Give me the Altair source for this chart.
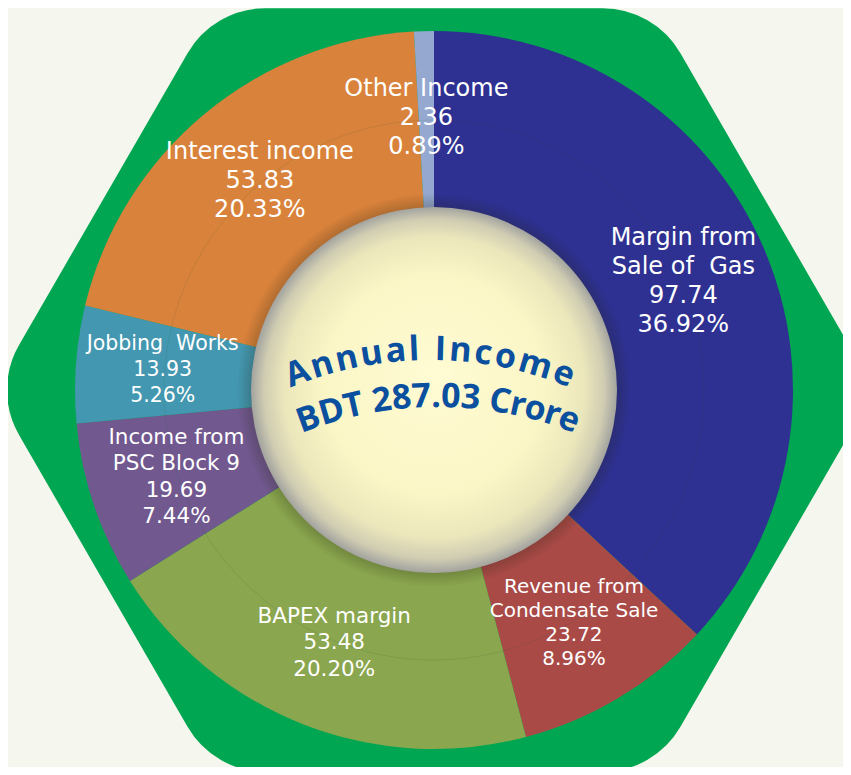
import math
import altair as alt
import pandas as pd

# ---- data (clockwise from 12 o'clock) ----
categories = ["Margin from\nSale of\u00a0 Gas", "Revenue from\nCondensate Sale", "BAPEX margin",
              "Income from\nPSC Block 9", "Jobbing\u00a0 Works", "Interest income", "Other Income"]
values = [97.74, 23.72, 53.48, 19.69, 13.93, 53.83, 2.36]
percents = [36.92, 8.96, 20.20, 7.44, 5.26, 20.33, 0.89]
title_lines = ["Annual Income", "BDT 287.03 Crore"]

# ---- styles ----
colors = ["#2e3192", "#a94a47", "#8aa64e", "#71588f", "#4397b0", "#d9823b", "#94a8d0"]
label_font = [24, 20, 21.5, 21.5, 20.5, 24, 24]      # font size per slice label
label_lead = [29, 24, 26.5, 26.5, 26, 29, 29]        # line height per slice label

# ---- layout ----
W, H = 835, 759
CX, CY = 426, 382
R_PIE = 359
R_HOLE = 183
R_LABEL = 272
GREEN = "#00a651"
BG = "#f5f6ee"
TOTAL = sum(values)

df = pd.DataFrame({"name": categories, "value": values, "pct": percents,
                   "idx": list(range(len(categories)))})
df["label"] = [f"{n}\n{v:.2f}\n{p:.2f}%" for n, v, p in zip(categories, values, percents)]

one = pd.DataFrame({"k": [0]})

# rounded hexagon background (custom symbol path, unit circumradius)
HEX = "M1,0L0.5,0.866L-0.5,0.866L-1,0L-0.5,-0.866L0.5,-0.866Z"
hexagon = alt.Chart(one).mark_point(
    shape=HEX, size=674 ** 2, filled=True, fill=GREEN, stroke=GREEN,
    strokeWidth=180, strokeJoin="round", opacity=1
).encode(x=alt.value(CX), y=alt.value(CY))

pie = alt.Chart(df).mark_arc(radius=R_PIE, strokeWidth=0).encode(
    theta=alt.Theta("value:Q", stack=True, scale=alt.Scale(domain=[0, TOTAL])),
    order=alt.Order("idx:Q", sort="ascending"),
    color=alt.Color("name:N", scale=alt.Scale(domain=categories, range=colors), legend=None),
    x=alt.value(CX), y=alt.value(CY),
)

ring = alt.Chart(one).mark_arc(
    radius=270, theta=0, theta2=6.2832, fill="#000000", fillOpacity=0,
    stroke="#1d5b33", strokeWidth=0.7, strokeOpacity=0.18
).encode(x=alt.value(CX), y=alt.value(CY))

lab_base = alt.Chart(df).transform_window(
    cum="sum(value)", sort=[alt.SortField("idx", order="ascending")]
).transform_calculate(mid="datum.cum - datum.value / 2")

label_layers = []
for i, cat in enumerate(categories):
    n_lines = cat.count("\n") + 3
    lh = label_lead[i]
    label_layers.append(
        lab_base.transform_filter(f"datum.idx == {i}").mark_text(
            radius=R_LABEL, lineBreak="\n", font="DejaVu Sans", fontSize=label_font[i],
            lineHeight=lh, dy=-(n_lines - 1) / 2 * lh, color="white",
            align="center", baseline="middle"
        ).encode(
            theta=alt.Theta("mid:Q", stack=False, scale=alt.Scale(domain=[0, TOTAL])),
            text=alt.Text("label:N"),
            x=alt.value(CX), y=alt.value(CY),
        )
    )

shadow = alt.Chart(one).mark_arc(
    radius=R_HOLE + 14, theta=0, theta2=6.2832,
    fill={"gradient": "radial", "x1": 0.5, "y1": 0.5, "r1": 0, "x2": 0.5, "y2": 0.5, "r2": 0.5,
          "stops": [{"offset": 0, "color": "rgba(30,30,10,0.35)"},
                    {"offset": 0.9, "color": "rgba(30,30,10,0.30)"},
                    {"offset": 1, "color": "rgba(30,30,10,0)"}]}
).encode(x=alt.value(CX), y=alt.value(CY))

hole = alt.Chart(one).mark_arc(
    radius=R_HOLE, theta=0, theta2=6.2832,
    fill={"gradient": "radial", "x1": 0.5, "y1": 0.46, "r1": 0, "x2": 0.5, "y2": 0.5, "r2": 0.5,
          "stops": [{"offset": 0, "color": "#fffbd3"},
                    {"offset": 0.6, "color": "#fbf6c6"},
                    {"offset": 0.82, "color": "#ece7bb"},
                    {"offset": 0.93, "color": "#cfccb2"},
                    {"offset": 1, "color": "#a3a39f"}]}
).encode(x=alt.value(CX), y=alt.value(CY))

# curved centre title: each character placed along an arc
EM = {'A': .669, 'n': .635, 'u': .635, 'a': .591, 'l': .283, ' ': .26, 'I': .342, 'c': .508,
      'o': .608, 'm': .962, 'e': .581, 'B': .670, 'D': .735, 'T': .58, '2': .572, '8': .572,
      '7': .572, '.': .28, '0': .572, '3': .572, 'C': .636, 'r': .425}
FS = 34
line_geom = [  # (centre x, centre y, baseline radius, arc length)
    (422, 718, 366, 286),
    (430, 770, 371, 280),
]


def arc_chars(text, R, L):
    ws = [EM.get(c, 0.55) * FS for c in text]
    track = (L - sum(ws)) / (len(text) - 1)
    s = -L / 2
    rows = []
    for c, w in zip(text, ws):
        phi = (s + w / 2) / R
        rows.append({"ch": c, "theta": phi % (2 * math.pi), "ang": math.degrees(phi) % 360})
        s += w + track
    return pd.DataFrame(rows)


title_layers = []
for text, (lx, ly, R, L) in zip(title_lines, line_geom):
    title_layers.append(
        alt.Chart(arc_chars(text, R, L)).mark_text(
            radius=R, font="Open Sans", fontWeight="bold", fontSize=FS,
            color="#0b4f9f", align="center", baseline="alphabetic"
        ).encode(
            theta=alt.Theta("theta:Q", scale=None, stack=False),
            angle=alt.Angle("ang:Q", scale=None),
            text=alt.Text("ch:N"),
            x=alt.value(lx), y=alt.value(ly),
        )
    )

chart = alt.layer(hexagon, pie, ring, *label_layers, shadow, hole, *title_layers).properties(
    width=W, height=H, autosize="none", padding=0, background=BG
).configure_view(stroke=None)

chart.save("out.html", embed_options={"renderer": "svg", "actions": False})
